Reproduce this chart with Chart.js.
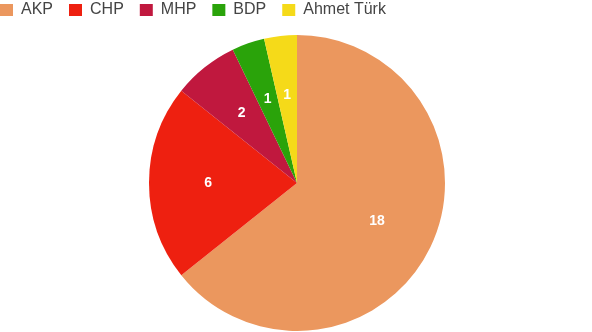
<!DOCTYPE html>
<html>
<head>
<meta charset="utf-8">
<script src="https://cdn.jsdelivr.net/npm/chart.js@4/dist/chart.umd.min.js"></script>
<style>
    html, body { margin: 0; padding: 0; background: #fff; overflow: hidden; }
    #wrap { position: absolute; left: -16px; top: -14px; width: 626px; height: 345px; }
</style>
</head>
<body>
<div id="wrap"><canvas id="pieChart"></canvas></div>
<script>
// party names and seat counts
const parties = ['AKP', 'CHP', 'MHP', 'BDP', 'Ahmet Türk'];
const seats = [18, 6, 2, 1, 1];
const partyColors = ['#eb975e', '#ee2010', '#c0183e', '#2aa30a', '#f5da19'];

// draws the value in the middle of each slice
const sliceLabels = {
    id: 'sliceLabels',
    afterDatasetsDraw(chart) {
        const c = chart.ctx;
        const meta = chart.getDatasetMeta(0);
        c.save();
        c.fillStyle = '#fff';
        c.font = 'bold 14px "Liberation Sans", Arial, sans-serif';
        c.textAlign = 'center';
        c.textBaseline = 'middle';
        meta.data.forEach((arc, i) => {
            const mid = (arc.startAngle + arc.endAngle) / 2;
            const r = arc.outerRadius * 0.6;
            c.fillText(String(seats[i]), arc.x + Math.cos(mid) * r, arc.y + Math.sin(mid) * r);
        });
        c.restore();
    }
};

// leave some more room under the legend
const legendGap = {
    id: 'legendGap',
    beforeInit(chart) {
        const fit = chart.legend.fit;
        chart.legend.fit = function () {
            fit.call(this);
            this.height += 7;
        };
    }
};

new Chart(document.getElementById('pieChart'), {
    type: 'pie',
    data: {
        labels: parties,
        datasets: [{
            data: seats,
            backgroundColor: partyColors,
            borderWidth: 0,
            hoverOffset: 0
        }]
    },
    options: {
        responsive: true,
        maintainAspectRatio: false,
        animation: false,
        layout: { padding: 0 },
        plugins: {
            legend: {
                position: 'top',
                align: 'start',
                labels: {
                    boxWidth: 13,
                    boxHeight: 12,
                    padding: 16,
                    color: '#444',
                    font: { family: '"Liberation Sans", Arial, sans-serif', size: 16 }
                }
            },
            tooltip: { enabled: false }
        }
    },
    plugins: [legendGap, sliceLabels]
});
</script>
</body>
</html>
